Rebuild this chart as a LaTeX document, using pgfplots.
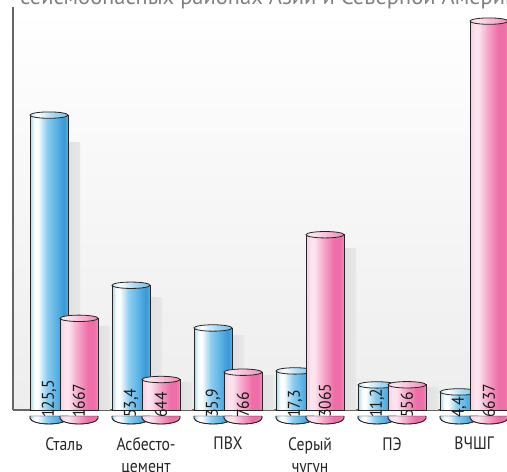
\documentclass[border=0pt]{standalone}
\usepackage{fontspec}
\setmainfont{PT Sans}
\newfontfamily\condfont{PT Sans}[FakeStretch=0.87]
\newfontfamily\numfont{PT Sans}[FakeStretch=0.92]
\usepackage{pgfplots}
\pgfplotsset{compat=1.18}
\usepackage{pgfplotstable}

\definecolor{cB0}{HTML}{A3D9F3}
\definecolor{cB1}{HTML}{8FCEF0}
\definecolor{cB2}{HTML}{58B1E5}
\definecolor{cB3}{HTML}{3B97D6}
\definecolor{cP0}{HTML}{F8CADF}
\definecolor{cPh}{HTML}{FCE3EE}
\definecolor{cP1}{HTML}{F6A8CA}
\definecolor{cP2}{HTML}{EE6EA8}
\definecolor{cP3}{HTML}{F28BBA}

\pgfdeclarehorizontalshading{cylblue}{100bp}{color(0bp)=(cB0); color(25bp)=(cB0); color(31bp)=(white); color(35bp)=(white); color(47bp)=(cB1); color(60bp)=(cB2); color(70bp)=(cB3); color(75bp)=(cB2); color(100bp)=(cB2)}
\pgfdeclarehorizontalshading{cylpink}{100bp}{color(0bp)=(cP0); color(25bp)=(cP0); color(31bp)=(cPh); color(36bp)=(cPh); color(48bp)=(cP1); color(62bp)=(cP2); color(70bp)=(cP2); color(75bp)=(cP3); color(100bp)=(cP3)}
\pgfdeclarehorizontalshading{cylbluetop}{100bp}{color(0bp)=(cB0!70!white); color(25bp)=(cB0!70!white); color(35bp)=(white); color(55bp)=(cB1!80!white); color(75bp)=(cB2!80!white); color(100bp)=(cB2!80!white)}
\pgfdeclarehorizontalshading{cylpinktop}{100bp}{color(0bp)=(cP0!70!white); color(25bp)=(cP0!70!white); color(35bp)=(cPh); color(55bp)=(cP1!85!white); color(75bp)=(cP2!80!white); color(100bp)=(cP2!80!white)}

\pgfdeclareplotmark{topB}{\shadedraw[shading=cylbluetop, draw=black!85, line width=0.8pt] (0pt,0pt) ellipse [x radius=19pt, y radius=3.2pt];}
\pgfdeclareplotmark{topP}{\shadedraw[shading=cylpinktop, draw=black!85, line width=0.8pt] (0pt,0pt) ellipse [x radius=19pt, y radius=3.2pt];}
\pgfdeclareplotmark{botB}{\shade[shading=cylblue] (-19pt,2pt) -- (-19pt,0pt) arc[start angle=180,end angle=360,x radius=19pt,y radius=6pt] -- (19pt,2pt) -- cycle; \draw[black!85, line width=0.8pt] (-19pt,2pt) -- (-19pt,0pt) arc[start angle=180,end angle=360,x radius=19pt,y radius=6pt] -- (19pt,2pt);}
\pgfdeclareplotmark{botP}{\shade[shading=cylpink] (-19pt,2pt) -- (-19pt,0pt) arc[start angle=180,end angle=360,x radius=19pt,y radius=6pt] -- (19pt,2pt) -- cycle; \draw[black!85, line width=0.8pt] (-19pt,2pt) -- (-19pt,0pt) arc[start angle=180,end angle=360,x radius=19pt,y radius=6pt] -- (19pt,2pt);}

% blue series (bar heights as drawn in the picture), labels = printed values
\pgfplotstableread{
x h base label sh
-0.183 125.5 0 125,5 114
0.817 55.0 0 53,4 50
1.817 37.3 0 35,9 34
2.817 19.5 0 17,3 17.8
3.817 13.7 0 11,2 12.4
4.817 10.8 0 4,4 9.9
}\bluedata

% pink series
\pgfplotstableread{
x h base label sh
0.183 1667 0 1667 1530
1.183 644 0 644 590
2.183 766 0 766 705
3.183 3065 0 3065 2830
4.183 556 0 556 510
5.183 6637 0 6637 6100
}\pinkdata

\pgfplotsset{
  cylaxis/.style={
    at={(13pt,62pt)}, anchor=south west,
    scale only axis, width=494pt, height=403pt,
    xmin=-0.622, xmax=5.402,
    clip=false,
    ytick=\empty,
  },
  vallabels/.style={
    nodes near coords,
    point meta=explicit symbolic,
    every node near coord/.append style={rotate=90, anchor=west, inner sep=0pt,
      font=\numfont\fontsize{17}{20}\selectfont, text=black!90},
  },
}

\begin{document}
\begin{tikzpicture}
% blue axis (with the visible axis lines and category labels)
\begin{axis}[cylaxis,
  ymin=3.31, ymax=170.3,
  axis lines=left, axis line style={-, draw=black!60, line width=1.3pt},
  axis background/.style={shade, top color=white, middle color=white, bottom color=black!7},
  xtick={0,1,2,3,4,5},
  xticklabels={Сталь, Асбесто-\\цемент, ПВХ, Серый\\чугун, ПЭ, ВЧШГ},
  major tick length=0pt,
  xticklabel style={align=center, inner sep=0pt, yshift=-27pt,
    font=\condfont\fontsize{18}{22}\selectfont, text=black!85},
]
\pgfplotsinvokeforeach{0,...,5}{
  \addplot[ybar, bar width=38pt, bar shift=12pt, left color=black!19, right color=black!9, draw=none,
    restrict expr to domain={\coordindex}{#1:#1}] table[x=x, y=sh] {\bluedata};
}
\pgfplotsinvokeforeach{0,...,5}{
  \addplot[ybar, bar width=38pt, bar shift=0pt, shade, shading=cylblue, draw=black!85, line width=0.8pt,
    restrict expr to domain={\coordindex}{#1:#1}] table[x=x, y=h] {\bluedata};
}
\addplot[only marks, mark=topB] table[x=x, y=h] {\bluedata};
\addplot[only marks, mark=botB, vallabels] table[x=x, y=base, meta=label] {\bluedata};
\end{axis}
% pink axis
\begin{axis}[cylaxis, hide axis,
  ymin=134, ymax=6873,
]
\pgfplotsinvokeforeach{0,...,5}{
  \addplot[ybar, bar width=38pt, bar shift=12pt, left color=black!19, right color=black!9, draw=none,
    restrict expr to domain={\coordindex}{#1:#1}] table[x=x, y=sh] {\pinkdata};
}
\pgfplotsinvokeforeach{0,...,5}{
  \addplot[ybar, bar width=38pt, bar shift=0pt, shade, shading=cylpink, draw=black!85, line width=0.8pt,
    restrict expr to domain={\coordindex}{#1:#1}] table[x=x, y=h] {\pinkdata};
}
\addplot[only marks, mark=topP] table[x=x, y=h] {\pinkdata};
\addplot[only marks, mark=botP, vallabels] table[x=x, y=base, meta=label] {\pinkdata};
\end{axis}
\node[anchor=base west, text=black!50, font=\fontsize{22.5}{26}\selectfont, inner sep=0pt] at (20pt,467pt) {сейсмоопасных районах Азии и Северной Америки};
\pgfresetboundingbox
\path[use as bounding box] (0pt,0pt) rectangle (507pt,472pt);
\end{tikzpicture}
\end{document}
